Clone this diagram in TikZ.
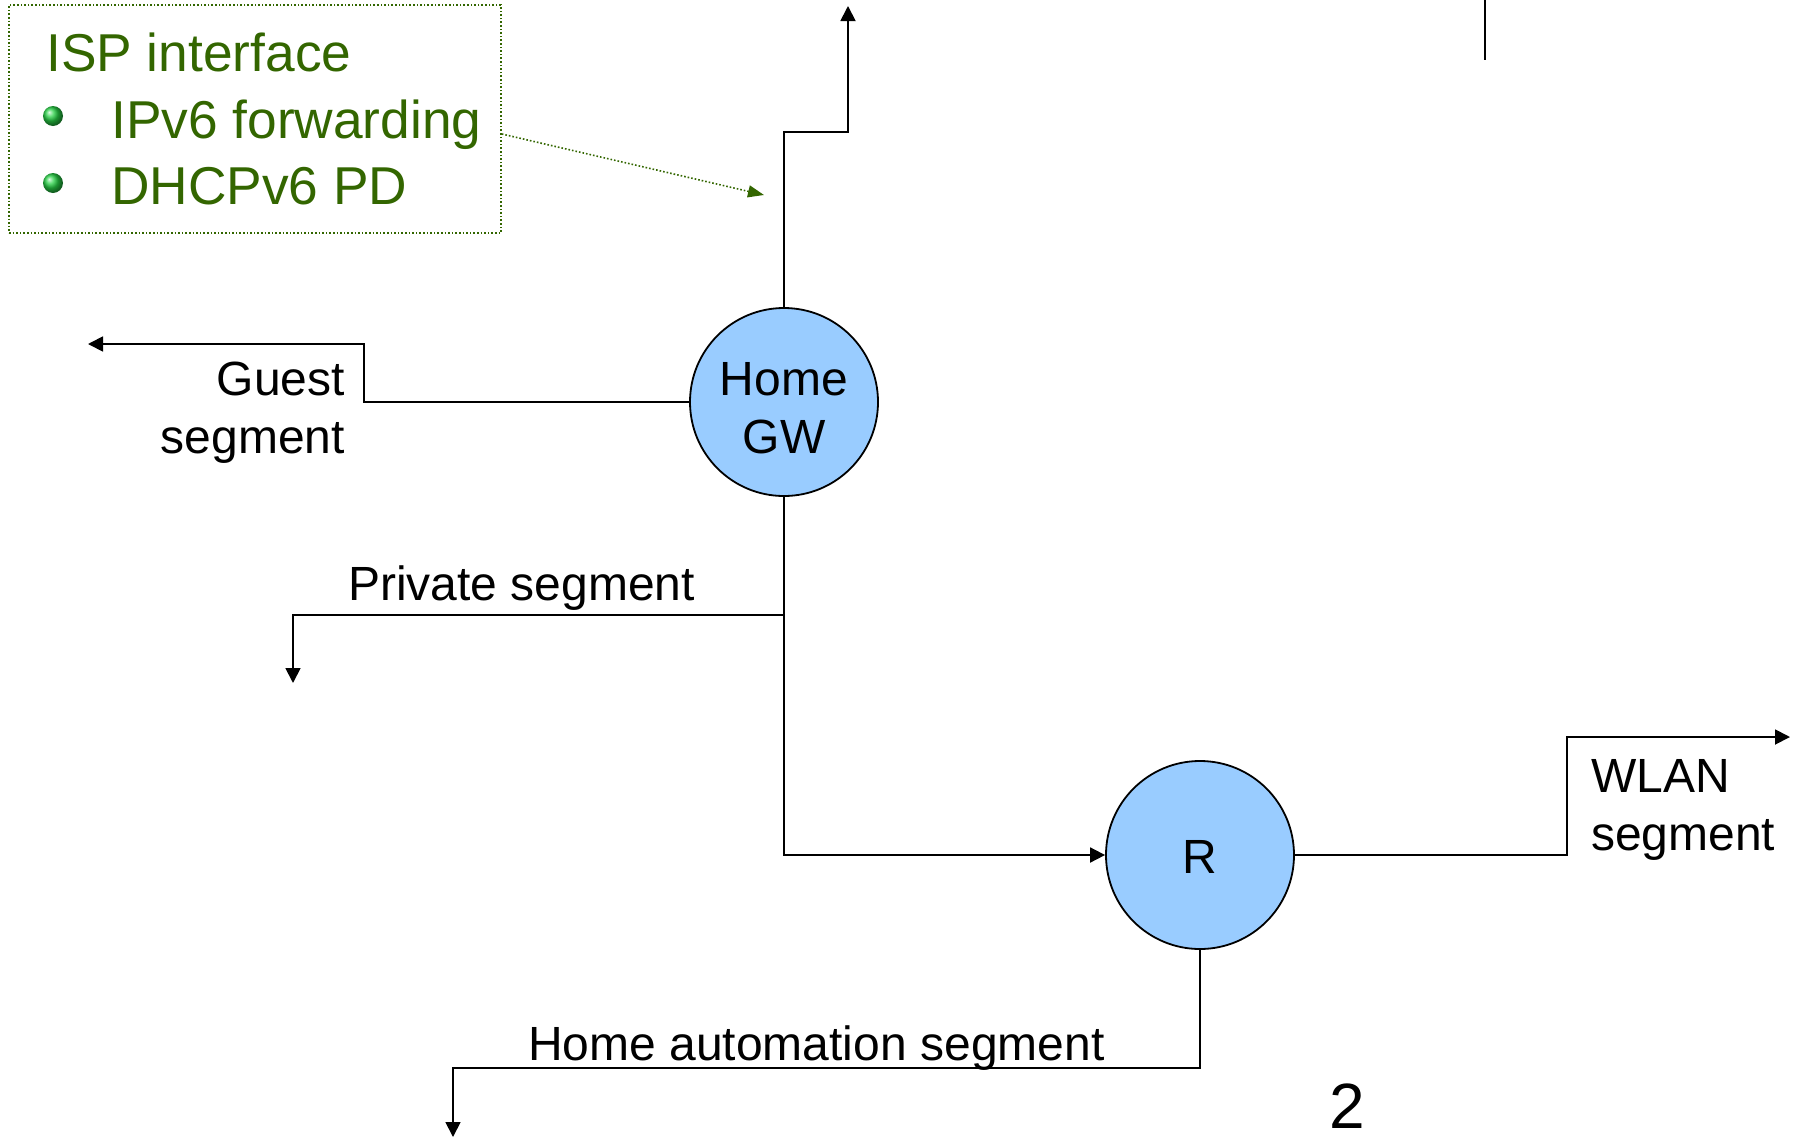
\documentclass[tikz,border=0pt]{standalone}
\usepackage{fontspec}
\setmainfont{Liberation Sans}
\usetikzlibrary{arrows.meta,shapes.geometric}
\definecolor{ispgreen}{RGB}{51,102,0}
\definecolor{nodeblue}{RGB}{153,204,255}
\definecolor{ballgreen}{RGB}{40,210,70}
\tikzset{
  conn/.style={line width=1.8pt, draw=black},
  tip/.style={-{Triangle[length=15pt,width=15pt]}},
  router/.style={circle, draw=black, line width=1.8pt, fill=nodeblue, minimum size=188pt, inner sep=0pt},
  lbl/.style={inner sep=0pt, font=\fontsize{48}{58}\selectfont, text=black},
  isptxt/.style={inner sep=0pt, anchor=base west, font=\fontsize{53.3}{60}\selectfont, text=ispgreen},
}
\begin{document}
\begin{tikzpicture}[x=1pt,y=-1pt]
\useasboundingbox (0,0) rectangle (1797,1138);
% ISP box
\node (isp) [draw=ispgreen, dotted, line width=1.6pt, minimum width=492pt, minimum height=228pt, inner sep=0pt] at (255,119) {};
\node (isp1) [isptxt] at (46,71) {ISP interface};
\node (isp2) [isptxt] at (111,138) {IPv6 forwarding};
\node (isp3) [isptxt] at (111,204) {DHCPv6 PD};
\shade[ball color=ballgreen] (53,116) circle (10);
\shade[ball color=ballgreen] (53,183) circle (10);
% nodes
\node (gw) [router] at (784,402) {};
\node (gwtxt) [lbl, anchor=base, align=center] at (784,453) {Home\\GW};
\node (r) [router] at (1200,855) {};
\node (rtxt) [lbl, anchor=base] at (1200,873) {R};
% free ends
\coordinate (upend) at (848,6);
\coordinate (ispend) at (764,195);
\coordinate (guestend) at (88,344);
\coordinate (pj) at (784,615);
\coordinate (privend) at (293,683);
\coordinate (wlanend) at (1790,737);
\coordinate (haend) at (453,1137);
\coordinate (tr1) at (1485,0);
\coordinate (tr2) at (1485,60);
% connectors
\draw[conn,tip] (gw.north) |- (848,132) -- (upend);
\draw[conn,tip] (gw.west) -| (364,344) -- (guestend);
\draw[conn,tip] (gw.south) |- (r.west);
\draw[conn,tip] (pj) -| (privend);
\draw[conn,tip] (r.east) -| (1567,737) -- (wlanend);
\draw[conn,tip] (r.south) |- (haend |- 0,1068) -- (haend);
\draw[conn] (tr1) -- (tr2);
\draw[ispgreen, dotted, line width=1.6pt, -{Triangle[length=16pt,width=12pt]}] ([yshift=-15pt]isp.east) -- (ispend);
% labels
\node (guest) [lbl, anchor=base east, align=right] at (345,453) {Guest\\segment};
\node (priv) [lbl, anchor=base west] at (348,600) {Private segment};
\node (wlan) [lbl, anchor=base west, align=left] at (1591,850) {WLAN\\segment};
\node (ha) [lbl, anchor=base west] at (528,1060) {Home automation segment};
\node (num) [inner sep=0pt, anchor=base, font=\fontsize{64}{70}\selectfont] at (1347,1128) {2};
\end{tikzpicture}
\end{document}
